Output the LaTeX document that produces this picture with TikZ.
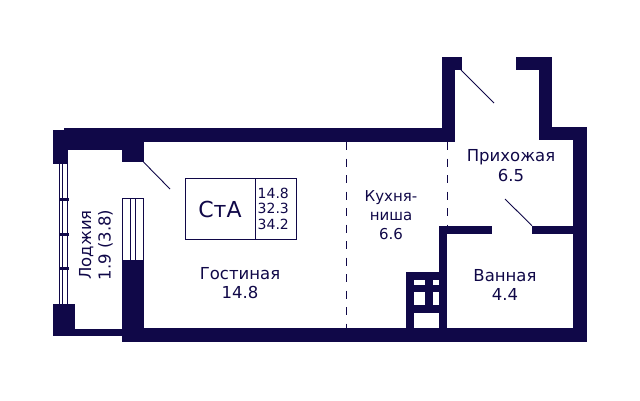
\documentclass[tikz,border=0pt]{standalone}
\usepackage{fontspec}
\setmainfont{DejaVu Sans}
\definecolor{navy}{HTML}{100848}
\begin{document}
\begin{tikzpicture}[x=1pt,y=-1pt,
    wall/.style={fill=navy},
    hole/.style={fill=white},
    thin line/.style={draw=navy, line width=0.9pt},
    zone/.style={draw=navy, line width=1pt, dash pattern=on 8pt off 8.5pt},
    label/.style={text=navy, font=\fontsize{16.5}{19.5}\selectfont, align=center, inner sep=0pt},
    area/.style={text=navy, font=\fontsize{14}{15.5}\selectfont, align=left, inner sep=0pt}]
    \useasboundingbox (0,0) rectangle (640,400);

    % outer walls
    \fill[wall] (64,128) rectangle (455,142);
    \fill[wall] (53.3,129.5) rectangle (122,150);
    \fill[wall] (53.3,129.5) rectangle (68,164);
    \fill[wall] (122,128) rectangle (143.5,162);
    \fill[wall] (122,260) rectangle (143.5,342);
    \fill[wall] (53.3,303.7) rectangle (75,336);
    \fill[wall] (53.3,328.5) rectangle (122,336);
    \fill[wall] (122,328.3) rectangle (586.7,342.3);
    \fill[wall] (573.3,127.3) rectangle (586.7,342.3);
    \fill[wall] (539,127.3) rectangle (586.7,140);
    \fill[wall] (539,57.3) rectangle (552.3,140);
    \fill[wall] (515.7,57.3) rectangle (552.3,70.3);
    \fill[wall] (441.7,57.3) rectangle (455,142);
    \fill[wall] (441.7,57.3) rectangle (462,70.3);

    % bathroom
    \fill[wall] (439,225.7) rectangle (446.7,328.3);
    \fill[wall] (439,225.7) rectangle (492,233.7);
    \fill[wall] (531.7,225.7) rectangle (573.3,233.7);

    % kitchen niche
    \fill[wall] (405.7,272.3) rectangle (439,328.3);
    \fill[hole] (414,280) rectangle (425,284.7);
    \fill[hole] (433.3,280) rectangle (439,284.7);
    \fill[hole] (414,292.3) rectangle (425,305);
    \fill[hole] (433.3,292.3) rectangle (439,305);
    \fill[hole] (414,313.3) rectangle (439,328.3);

    % windows
    \foreach \x in {59.3,62.7,67.7} \draw[thin line] (\x,164) -- (\x,303.7);
    \foreach \y in {199.5,234,268} \draw[wall, draw=navy] (59.3,\y-1) rectangle (67.7,\y+1);
    \foreach \x in {122.4,130.7,135.7,143.1} \draw[thin line] (\x,198.5) -- (\x,260);
    \draw[thin line] (122,198.5) -- (143.5,198.5);

    % doors
    \coordinate (door1a) at (143.5,162);
    \coordinate (door1b) at (170,189);
    \coordinate (door2a) at (461,70);
    \coordinate (door2b) at (494,103);
    \coordinate (door3a) at (532,225.7);
    \coordinate (door3b) at (505,199);
    \draw[thin line] (door1a) -- (door1b);
    \draw[thin line] (door2a) -- (door2b);
    \draw[thin line] (door3a) -- (door3b);

    % zones
    \coordinate (zone1a) at (346.5,142);
    \coordinate (zone1b) at (346.5,328.3);
    \coordinate (zone2a) at (447.4,142);
    \coordinate (zone2b) at (447.4,225.7);
    \draw[zone] (zone1a) -- (zone1b);
    \draw[zone] (zone2a) -- (zone2b);

    % flat type box
    \draw[draw=navy, line width=1pt] (185,178.3) rectangle (296,239);
    \draw[draw=navy, line width=1pt] (255,178.3) -- (255,239);
    \node[text=navy, font=\fontsize{22}{25}\selectfont, inner sep=0pt] (type) at (220,209) {СтА};
    \node[area, anchor=west] (area1) at (257.5,193) {14.8};
    \node[area, anchor=west] (area2) at (257.5,208) {32.3};
    \node[area, anchor=west] (area3) at (257.5,224) {34.2};

    % rooms
    \node[label] (living) at (240,283) {Гостиная\\14.8};
    \node[label, font=\fontsize{15}{19}\selectfont] (kitchen) at (391,215.5) {Кухня-\\ниша\\6.6};
    \node[label] (hall) at (511,165.5) {Прихожая\\6.5};
    \node[label] (bath) at (505,285) {Ванная\\4.4};
    \node[label, rotate=90] (loggia) at (96,245) {Лоджия\\1.9 (3.8)};
\end{tikzpicture}
\end{document}
